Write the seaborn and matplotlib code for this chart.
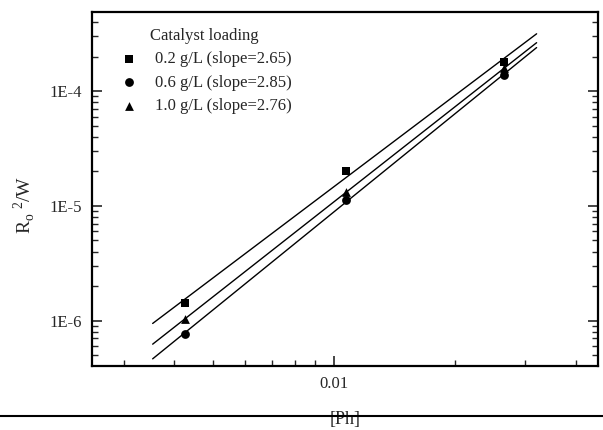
import numpy as np
import pandas as pd
import matplotlib
matplotlib.use("Agg")
import matplotlib.pyplot as plt
import matplotlib.ticker as mticker
from matplotlib.lines import Line2D
import seaborn as sns

# ---- data ----
ph_conc = [0.00425, 0.0107, 0.0266]           # [Ph]
y_02 = [1.43e-6, 2.02e-5, 1.81e-4]            # 0.2 g/L
y_06 = [7.65e-7, 1.12e-5, 1.39e-4]            # 0.6 g/L
y_10 = [1.03e-6, 1.31e-5, 1.59e-4]            # 1.0 g/L
series_labels = ["0.2 g/L (slope=2.65)", "0.6 g/L (slope=2.85)", "1.0 g/L (slope=2.76)"]
series_markers = ["s", "o", "^"]
fit_range = [0.00354, 0.032]
legend_title = "Catalyst loading"
x_label = "[Ph]"
y_label = r"R$_\mathregular{o}$$^\mathregular{\ 2}$/W"

sns.set_style("ticks")
plt.rcParams["font.family"] = ["Liberation Serif", "DejaVu Serif"]
plt.rcParams["mathtext.fontset"] = "custom"
plt.rcParams["mathtext.rm"] = "Liberation Serif"

fig = plt.figure(figsize=(6.03, 4.30), dpi=100)
ax = fig.add_axes([92/603, (430-366)/430, 506/603, 354/430])

all_y = [y_02, y_06, y_10]
for yv, lab, mk in zip(all_y, series_labels, series_markers):
    df = pd.DataFrame({"x": ph_conc, "y": yv})
    sns.scatterplot(data=df, x="x", y="y", marker=mk, color="black", s=40,
                    linewidth=0, label=lab, ax=ax, zorder=3)
    # least-squares fit in log-log space
    b, a = np.polyfit(np.log10(ph_conc), np.log10(yv), 1)
    fx = np.array(fit_range)
    fdf = pd.DataFrame({"x": fx, "y": 10 ** (a + b * np.log10(fx))})
    sns.lineplot(data=fdf, x="x", y="y", color="black", linewidth=1.0,
                 legend=False, ax=ax, zorder=2)

ax.set_xscale("log")
ax.set_yscale("log")
ax.set_xlim(0.0025, 0.0455)
ax.set_ylim(4.03e-7, 4.9e-4)

ax.xaxis.set_major_locator(mticker.LogLocator(base=10))
ax.xaxis.set_minor_locator(mticker.LogLocator(base=10, subs=np.arange(2, 10)))
ax.yaxis.set_major_locator(mticker.LogLocator(base=10))
ax.yaxis.set_minor_locator(mticker.LogLocator(base=10, subs=np.arange(2, 10)))
ax.xaxis.set_major_formatter(mticker.FuncFormatter(lambda v, p: f"{v:g}"))
ax.yaxis.set_major_formatter(mticker.FuncFormatter(lambda v, p: f"1E{int(round(np.log10(v)))}"))
ax.xaxis.set_minor_formatter(mticker.NullFormatter())
ax.yaxis.set_minor_formatter(mticker.NullFormatter())

ax.tick_params(axis="both", which="major", direction="in", length=7, width=1.2,
               labelsize=12, pad=7)
ax.tick_params(axis="both", which="minor", direction="in", length=4, width=1.0)
ax.tick_params(axis="y", which="both", right=True, left=True)
ax.tick_params(axis="x", which="both", top=False, bottom=True)
for sp in ax.spines.values():
    sp.set_visible(True)
    sp.set_linewidth(1.6)
    sp.set_color("black")

ax.set_xlabel(x_label, fontsize=13)
ax.set_ylabel(y_label, fontsize=14)
ax.xaxis.set_label_coords(0.5, -0.127)
ax.yaxis.set_label_coords(-0.108, 0.455)

leg = ax.legend(title=legend_title, loc="upper left", bbox_to_anchor=(0.036, 0.975),
                borderaxespad=0, frameon=False, fontsize=12, title_fontsize=12,
                handlelength=1.5, handletextpad=0.8, labelspacing=0.45)

fig.add_artist(Line2D([0, 1], [(430-416)/430, (430-416)/430], color="black",
                      linewidth=1.5, transform=fig.transFigure))

fig.savefig("out.png", dpi=100)
